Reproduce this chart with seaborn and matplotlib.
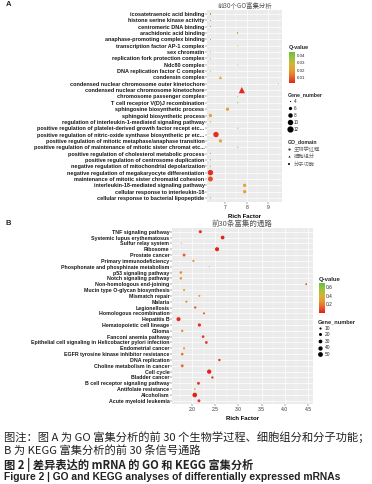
import pandas as pd
import numpy as np
import seaborn as sns
import matplotlib
matplotlib.use("Agg")
import matplotlib.pyplot as plt
import matplotlib.colorbar as mcolorbar
from matplotlib.colors import LinearSegmentedColormap, Normalize
from matplotlib.lines import Line2D

# ---- panel A: GO top 30 ----
go_terms = [
    "icosatetraenoic acid binding",
    "histone serine kinase activity",
    "centromeric DNA binding",
    "arachidonic acid binding",
    "anaphase-promoting complex binding",
    "transcription factor AP-1 complex",
    "sex chromatin",
    "replication fork protection complex",
    "Ndc80 complex",
    "DNA replication factor C complex",
    "condensin complex",
    "condensed nuclear chromosome outer kinetochore",
    "condensed nuclear chromosome kinetochore",
    "chromosome passenger complex",
    "T cell receptor V(D)J recombination",
    "sphingosine biosynthetic process",
    "sphingoid biosynthetic process",
    "regulation of interleukin-1-mediated signaling pathway",
    "positive regulation of platelet-derived growth factor recept etc...",
    "positive regulation of nitric-oxide synthase biosynthetic pr etc...",
    "positive regulation of mitotic metaphase/anaphase transition",
    "positive regulation of maintenance of mitotic sister chromat etc...",
    "positive regulation of cholesterol metabolic process",
    "positive regulation of centrosome duplication",
    "negative regulation of mitochondrial depolarization",
    "negative regulation of megakaryocyte differentiation",
    "maintenance of mitotic sister chromatid cohesion",
    "interleukin-18-mediated signaling pathway",
    "cellular response to interleukin-18",
    "cellular response to bacterial lipopeptide",
]
go_domain = ["分子功能"] * 5 + ["细胞组分"] * 9 + ["生物学过程"] * 16
go_rich = [6.30, 6.30, 6.30, 7.58, 6.30, 7.58, 6.30, 6.30, 7.58, 6.30,
           6.77, 9.49, 7.77, 7.58, 7.58, 7.10, 6.30, 6.30, 7.58, 6.56,
           6.77, 7.58, 6.30, 6.30, 6.30, 6.30, 6.30, 7.90, 7.90, 6.30]
go_q = [0.042, 0.042, 0.042, 0.040, 0.042, 0.040, 0.042, 0.042, 0.040, 0.042,
        0.026, 0.040, 0.003, 0.040, 0.040, 0.021, 0.021, 0.042, 0.040, 0.004,
        0.024, 0.040, 0.042, 0.042, 0.042, 0.004, 0.008, 0.021, 0.021, 0.042]
go_genes = [4, 4, 4, 4, 4, 4, 4, 4, 4, 4,
            6, 4, 12, 4, 4, 6, 6, 4, 4, 10,
            6, 4, 4, 4, 4, 10, 9, 6, 6, 4]
go_domains_order = ["生物学过程", "细胞组分", "分子功能"]

# ---- panel B: KEGG top 30 ----
kegg_terms = [
    "TNF signaling pathway",
    "Systemic lupus erythematosus",
    "Sulfur relay system",
    "Ribosome",
    "Prostate cancer",
    "Primary immunodeficiency",
    "Phosphonate and phosphinate metabolism",
    "p53 signaling pathway",
    "Notch signaling pathway",
    "Non-homologous end-joining",
    "Mucin type O-glycan biosynthesis",
    "Mismatch repair",
    "Malaria",
    "Legionellosis",
    "Homologous recombination",
    "Hepatitis B",
    "Hematopoietic cell lineage",
    "Glioma",
    "Fanconi anemia pathway",
    "Epithelial cell signaling in Helicobacter pylori infection",
    "Endometrial cancer",
    "EGFR tyrosine kinase inhibitor resistance",
    "DNA replication",
    "Choline metabolism in cancer",
    "Cell cycle",
    "Bladder cancer",
    "B cell receptor signaling pathway",
    "Antifolate resistance",
    "Alcoholism",
    "Acute myeloid leukemia",
]
kegg_rich = [2.18, 2.66, 1.77, 2.54, 1.83, 2.03, 2.38, 1.76, 1.76, 4.46,
             1.83, 2.16, 1.88, 2.07, 2.26, 1.71, 2.16, 1.79, 2.24, 2.31,
             1.83, 1.79, 2.59, 1.79, 2.37, 2.44, 2.14, 2.06, 2.06, 2.15]
kegg_q = [0.03, 0.005, 0.65, 0.003, 0.12, 0.26, 0.55, 0.25, 0.25, 0.05,
          0.34, 0.27, 0.24, 0.12, 0.15, 0.02, 0.03, 0.25, 0.05, 0.04,
          0.30, 0.18, 0.04, 0.15, 0.005, 0.05, 0.04, 0.30, 0.003, 0.04]
kegg_genes = [20, 30, 2, 36, 18, 10, 2, 15, 13, 6,
              10, 8, 10, 12, 10, 36, 22, 13, 15, 16,
              10, 15, 12, 18, 40, 12, 18, 6, 46, 18]

qcmap = LinearSegmentedColormap.from_list(
    "qval", ["#E3201B", "#E8652A", "#E69B2E", "#D2B535", "#9CC23C", "#6DBE45"])

sns.set_theme(style="darkgrid", rc={"axes.facecolor": "#EBEBEB", "grid.color": "white"})
plt.rcParams["font.family"] = ["Liberation Sans", "Noto Sans CJK SC", "DejaVu Sans"]

W, H = 372, 484
fig = plt.figure(figsize=(W / 100, H / 100), dpi=100)
fig.patch.set_facecolor("white")


def fx(px):
    return px / W


def fy(py):
    return 1 - py / H


def style_axes(ax, label_size, xticks, xminor):
    ax.set_xlabel("Rich Factor", fontsize=4.3, fontweight="bold", labelpad=1.2, color="black")
    ax.set_ylabel("")
    ax.set_xticks(xticks)
    ax.set_xticks(xminor, minor=True)
    ax.grid(which="major", color="white", linewidth=0.5)
    ax.grid(which="minor", color="white", linewidth=0.25)
    ax.tick_params(axis="y", which="major", left=True, length=1.2, width=0.3,
                   color="#333333", pad=0.6, labelsize=label_size)
    ax.tick_params(axis="x", which="major", bottom=True, length=1.2, width=0.3,
                   color="#333333", pad=0.8, labelsize=3.6, labelcolor="#333333")
    ax.tick_params(axis="x", which="minor", bottom=False)
    for lab in ax.get_yticklabels():
        lab.set_fontweight("bold")
        lab.set_color("#1a1a1a")
    for sp in ax.spines.values():
        sp.set_visible(False)


# ---------- Panel A ----------
dfa = pd.DataFrame({"term": go_terms, "domain": go_domain, "rich": go_rich,
                    "q": go_q, "genes": go_genes})
axa = fig.add_axes([fx(207), fy(201.8), fx(282) - fx(207), fy(10.2) - fy(201.8)])
sns.scatterplot(data=dfa, x="rich", y="term", hue="q", size="genes", style="domain",
                palette=qcmap, hue_norm=(0.002, 0.045), sizes=(0.7, 20), size_norm=(4, 12),
                markers={"生物学过程": "o", "细胞组分": "^", "分子功能": "s"},
                linewidth=0, legend=False, ax=axa)
axa.set_xlim(6.14, 9.65)
axa.set_ylim(len(go_terms) - 0.4, -0.6)
style_axes(axa, 3.95, [7, 8, 9], [6.5, 7.5, 8.5, 9.5])
axa.set_title("前30个GO富集分析", fontsize=4.6, color="#555555", pad=1.5,
              family=["Noto Sans CJK SC", "DejaVu Sans"])
fig.text(fx(6), fy(4), "A", fontsize=5.5, fontweight="bold", va="center", ha="left")

# Q-value colourbar A
fig.text(fx(289), fy(47.5), "Q-value", fontsize=4.0, fontweight="bold", va="center")
caxa = fig.add_axes([fx(289), fy(83.3), fx(6), fy(51.7) - fy(83.3)])
cba = mcolorbar.ColorbarBase(caxa, cmap=qcmap, norm=Normalize(0.002, 0.045))
cba.set_ticks([0.01, 0.02, 0.03, 0.04])
cba.set_ticklabels(["0.01", "0.02", "0.03", "0.04"])
cba.outline.set_visible(False)
caxa.tick_params(labelsize=3.2, length=1.2, width=0.3, color="white", direction="in", pad=1.2)
caxa.grid(False)

# Gene_number legend A
size_handles_a = [Line2D([], [], marker="o", linestyle="", color="black", markeredgewidth=0,
                         markersize=np.sqrt(0.7 + (g - 4) * (20 - 0.7) / 8)) for g in [4, 6, 8, 10, 12]]
leg1 = axa.legend(size_handles_a, ["4", "6", "8", "10", "12"], title="Gene_number",
                  loc="upper left", bbox_to_anchor=(fx(287.5), fy(92)), bbox_transform=fig.transFigure,
                  frameon=False, fontsize=3.3, title_fontsize=3.7, alignment="left",
                  handlelength=0.9, handletextpad=0.5, labelspacing=0.42, borderpad=0, borderaxespad=0)
leg1.get_title().set_fontweight("bold")
axa.add_artist(leg1)

# GO_domain legend A
dom_handles = [Line2D([], [], marker=m, linestyle="", color="#333333", markeredgewidth=0, markersize=1.6)
               for m in ["o", "^", "s"]]
leg2 = axa.legend(dom_handles, go_domains_order, title="GO_domain",
                  loc="upper left", bbox_to_anchor=(fx(287.5), fy(139)), bbox_transform=fig.transFigure,
                  frameon=False, title_fontsize=3.7, alignment="left",
                  handlelength=0.7, handletextpad=0.5, labelspacing=0.45, borderpad=0, borderaxespad=0,
                  prop={"family": ["Noto Sans CJK SC", "DejaVu Sans"], "size": 3.8})
leg2.get_title().set_fontweight("bold")
leg2.get_title().set_family(["Liberation Sans", "DejaVu Sans"])
for t in leg2.get_texts():
    t.set_color("#666666")

# ---------- Panel B ----------
dfb = pd.DataFrame({"term": kegg_terms, "rich": kegg_rich, "q": kegg_q, "genes": kegg_genes})
axb = fig.add_axes([fx(172), fy(404.3), fx(312.7) - fx(172), fy(228.2) - fy(404.3)])
sns.scatterplot(data=dfb, x="rich", y="term", hue="q", size="genes",
                palette=qcmap, hue_norm=(0.0, 0.69), sizes=(0.5, 12), size_norm=(2, 50),
                linewidth=0, legend=False, ax=axb)
axb.set_xlim(1.57, 4.60)
axb.set_ylim(len(kegg_terms) - 0.4, -0.6)
style_axes(axb, 3.75, [2.0, 2.5, 3.0, 3.5, 4.0, 4.5], [1.75, 2.25, 2.75, 3.25, 3.75, 4.25])
axb.set_xticklabels(["2.0", "2.5", "3.0", "3.5", "4.0", "4.5"])
axb.set_title("前30条富集的通路", fontsize=5.4, color="#555555", pad=1.5,
              family=["Noto Sans CJK SC", "DejaVu Sans"])
fig.text(fx(6), fy(223), "B", fontsize=5.5, fontweight="bold", va="center", ha="left")

# Q-value colourbar B
fig.text(fx(318.5), fy(279), "Q-value", fontsize=4.3, fontweight="bold", va="center")
caxb = fig.add_axes([fx(318.5), fy(312.7), fx(6), fy(283.3) - fy(312.7)])
cbb = mcolorbar.ColorbarBase(caxb, cmap=qcmap, norm=Normalize(0.0, 0.69))
cbb.set_ticks([0.2, 0.4, 0.6])
cbb.set_ticklabels(["0.2", "0.4", "0.6"])
cbb.outline.set_visible(False)
caxb.tick_params(labelsize=3.5, length=1.2, width=0.3, color="white", direction="in", pad=1.2)
caxb.grid(False)

size_handles_b = [Line2D([], [], marker="o", linestyle="", color="black", markeredgewidth=0,
                         markersize=np.sqrt(0.5 + (g - 2) * (12 - 0.5) / 48)) for g in [10, 20, 30, 40, 50]]
leg3 = axb.legend(size_handles_b, ["10", "20", "30", "40", "50"], title="Gene_number",
                  loc="upper left", bbox_to_anchor=(fx(317.5), fy(319)), bbox_transform=fig.transFigure,
                  frameon=False, fontsize=3.5, title_fontsize=4.1, alignment="left",
                  handlelength=0.9, handletextpad=0.6, labelspacing=0.32, borderpad=0, borderaxespad=0)
leg3.get_title().set_fontweight("bold")

# ---------- caption ----------
cap_font = ["Noto Sans CJK SC", "DejaVu Sans"]
fig.text(fx(4), fy(437.5), "图注：图 A 为 GO 富集分析的前 30 个生物学过程、细胞组分和分子功能；",
         fontsize=8.1, family=cap_font, va="center", ha="left", color="#222222")
fig.text(fx(4), fy(451), "B 为 KEGG 富集分析的前 30 条信号通路",
         fontsize=8.1, family=cap_font, va="center", ha="left", color="#222222")
fig.text(fx(4), fy(464.5), "图 2 | 差异表达的 mRNA 的 GO 和 KEGG 富集分析",
         fontsize=8.1, family=cap_font, fontweight="bold", va="center", ha="left", color="#222222")
fig.text(fx(4), fy(477.5), "Figure 2 | GO and KEGG analyses of differentially expressed mRNAs",
         fontsize=7.4, family=["Liberation Sans", "DejaVu Sans"], fontweight="bold",
         va="center", ha="left", color="#222222")

fig.savefig("out.png", dpi=100)
